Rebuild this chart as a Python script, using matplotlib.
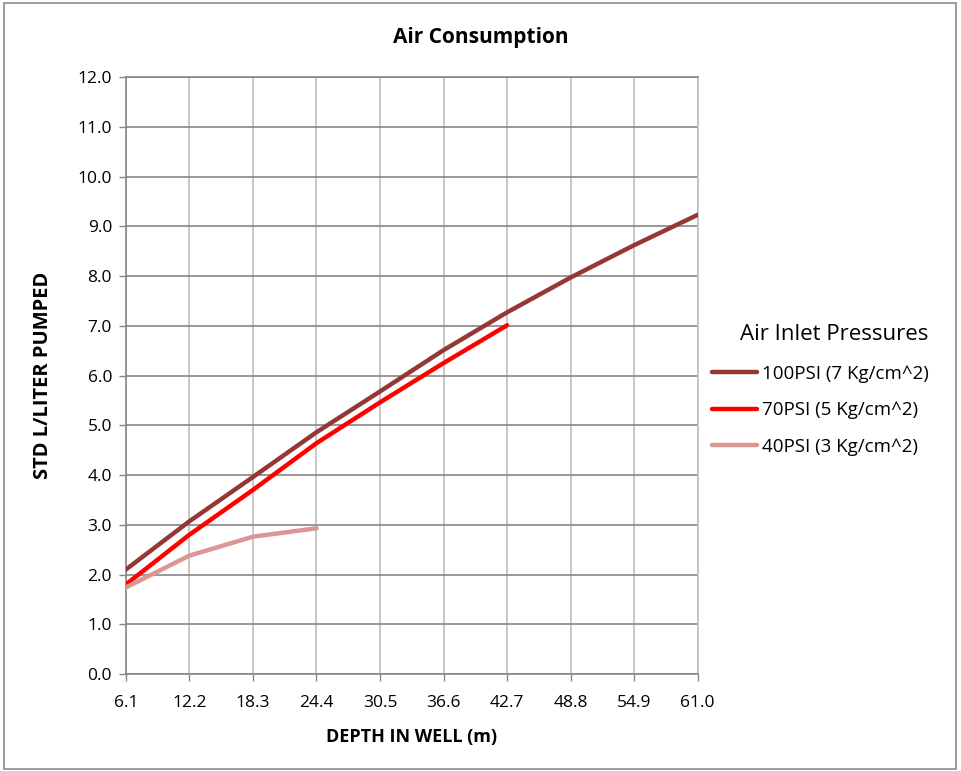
import numpy as np
import matplotlib.pyplot as plt
from matplotlib.patches import Rectangle

# depth in well (m), plotted as evenly spaced categories
depth_labels = ["6.1", "12.2", "18.3", "24.4", "30.5", "36.6", "42.7", "48.8", "54.9", "61.0"]

# standard litres of air per litre pumped
psi100 = [2.10, 3.07, 3.96, 4.86, 5.68, 6.51, 7.27, 7.97, 8.62, 9.23]
psi70 = [1.80, 2.80, 3.70, 4.64, 5.46, 6.25, 7.01]
psi40 = [1.74, 2.38, 2.76, 2.93]

series = [
    ("100PSI (7 Kg/cm^2)", psi100, "#953735"),
    ("70PSI (5 Kg/cm^2)", psi70, "#ff0000"),
    ("40PSI (3 Kg/cm^2)", psi40, "#d99694"),
]

plt.rcParams["font.family"] = ["Open Sans", "DejaVu Sans"]

fig = plt.figure(figsize=(9.61, 7.71), dpi=100)
ax = fig.add_axes([0.131, 0.1258, 0.595, 0.7743])

# outer chart frame
fig.patches.append(Rectangle((0.004, 0.003), 0.991, 0.993, transform=fig.transFigure,
                             fill=False, edgecolor="#8c8c8c", linewidth=1.2))

x = np.arange(len(depth_labels))
for label, values, color in series:
    ax.plot(x[:len(values)], values, color=color, linewidth=3.2,
            solid_capstyle="round", label=label, zorder=3)

ax.set_xlim(0, len(depth_labels) - 1)
ax.set_ylim(0, 12)
ax.set_xticks(x)
ax.set_xticklabels(depth_labels)
ax.set_yticks(np.arange(0, 12.5, 1.0))
ax.set_yticklabels([f"{v:.1f}" for v in np.arange(0, 12.5, 1.0)])
ax.tick_params(axis="both", labelsize=12.5, length=5, width=1, color="#868686",
               direction="out")
ax.tick_params(axis="x", pad=10)
ax.tick_params(axis="y", pad=5)

ax.yaxis.grid(True, color="#868686", linewidth=1.2)
ax.xaxis.grid(True, color="#bfbfbf", linewidth=1.2)
ax.set_axisbelow(True)

for side in ["left", "bottom", "top"]:
    ax.spines[side].set_color("#868686")
    ax.spines[side].set_linewidth(1.2)
ax.spines["right"].set_color("#bfbfbf")
ax.spines["right"].set_linewidth(1.2)

ax.set_xlabel("DEPTH IN WELL (m)", fontsize=13, fontweight="bold", labelpad=12)
ax.set_ylabel("STD L/LITER PUMPED", fontsize=14.5, fontweight="bold", labelpad=18)
fig.text(0.5, 0.951, "Air Consumption", ha="center", va="center",
         fontsize=15, fontweight="bold")

leg = ax.legend(title="Air Inlet Pressures", loc="upper left",
                bbox_to_anchor=(0.992, 0.617), frameon=False, fontsize=13.5,
                title_fontsize=16, handlelength=2.4, labelspacing=0.98,
                borderaxespad=0.6, handletextpad=0.25)
leg._legend_box.align = "right"
leg._legend_box.sep = 14

fig.savefig("out.png", dpi=100)
